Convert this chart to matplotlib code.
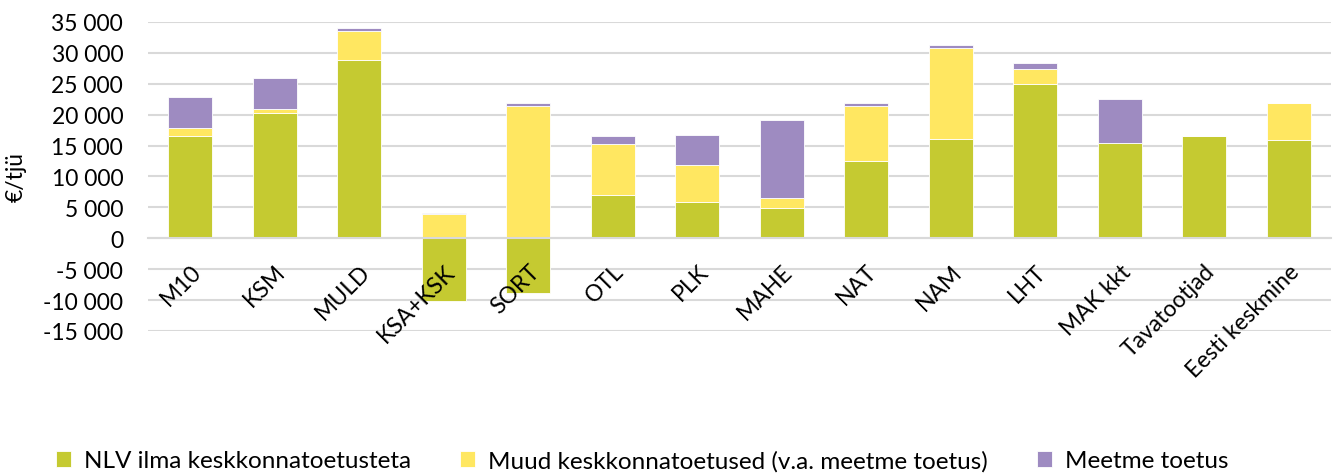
import numpy as np
import matplotlib.pyplot as plt
from matplotlib.ticker import FuncFormatter, MultipleLocator

categories = ["M10", "KSM", "MULD", "KSA+KSK", "SORT", "OTL", "PLK", "MAHE",
              "NAT", "NAM", "LHT", "MAK kkt", "Tavatootjad", "Eesti keskmine"]
nlv = [16500, 20250, 28900, -10200, -8800, 7000, 5800, 4950,
       12450, 16050, 24900, 15350, 16500, 15900]
muud = [1400, 600, 4600, 3900, 21400, 8200, 6050, 1600,
        8950, 14750, 2400, 0, 0, 5900]
meede = [4900, 5000, 500, 250, 500, 1300, 4850, 12650,
         450, 400, 1100, 7100, 0, 0]
series_names = ["NLV ilma keskkonnatoetusteta",
                "Muud keskkonnatoetused (v.a. meetme toetus)",
                "Meetme toetus"]
colors = ["#C5CA31", "#FFE761", "#9E8BC1"]

plt.rcParams["font.family"] = ["Lato", "DejaVu Sans"]

fig = plt.figure(figsize=(13.35, 4.77), dpi=100)
ax = fig.add_axes([0.111, 0.304, 0.886, 0.648])

x = np.arange(len(categories))
nlv = np.array(nlv)
muud = np.array(muud)
meede = np.array(meede)
# positive stacking starts from 0 when the first series is negative
base2 = np.clip(nlv, 0, None)
base3 = base2 + muud
w = 0.52
ax.bar(x, nlv, w, color=colors[0], edgecolor="white", linewidth=0.6,
       label=series_names[0], zorder=2)
ax.bar(x, muud, w, bottom=base2, color=colors[1], edgecolor="white",
       linewidth=0.6, label=series_names[1], zorder=2)
ax.bar(x, meede, w, bottom=base3, color=colors[2], edgecolor="white",
       linewidth=0.6, label=series_names[2], zorder=2)

ax.set_xlim(-0.5, len(categories) - 0.5)
ax.set_ylim(-15000, 35000)
ax.yaxis.set_major_locator(MultipleLocator(5000))
ax.yaxis.set_major_formatter(FuncFormatter(lambda v, p: f"{v:,.0f}".replace(",", " ")))
ax.set_axisbelow(True)
ax.grid(axis="y", color="#D9D9D9", linewidth=1.5)
ax.xaxis.set_zorder(5)
for s in ["top", "right", "left"]:
    ax.spines[s].set_visible(False)
ax.spines["bottom"].set_position(("data", 0))
ax.spines["bottom"].set_color("#D9D9D9")
ax.spines["bottom"].set_linewidth(1.5)
ax.spines["bottom"].set_zorder(4)
ax.tick_params(axis="both", length=0, labelsize=16.5, colors="black")
ax.tick_params(axis="y", pad=18)
ax.set_xticks(x)
ax.set_xticklabels(categories, rotation=45, ha="right", va="top",
                   rotation_mode="anchor")
ax.tick_params(axis="x", pad=16)
ax.set_ylabel("€/tjü", fontsize=16.5, labelpad=12)

leg = fig.legend(loc="lower center", bbox_to_anchor=(0.481, -0.036), ncol=3,
                 frameon=False, fontsize=17.5, handlelength=0.62, handleheight=0.62,
                 columnspacing=2.0, handletextpad=0.55)

fig.savefig("out.png", dpi=100)
